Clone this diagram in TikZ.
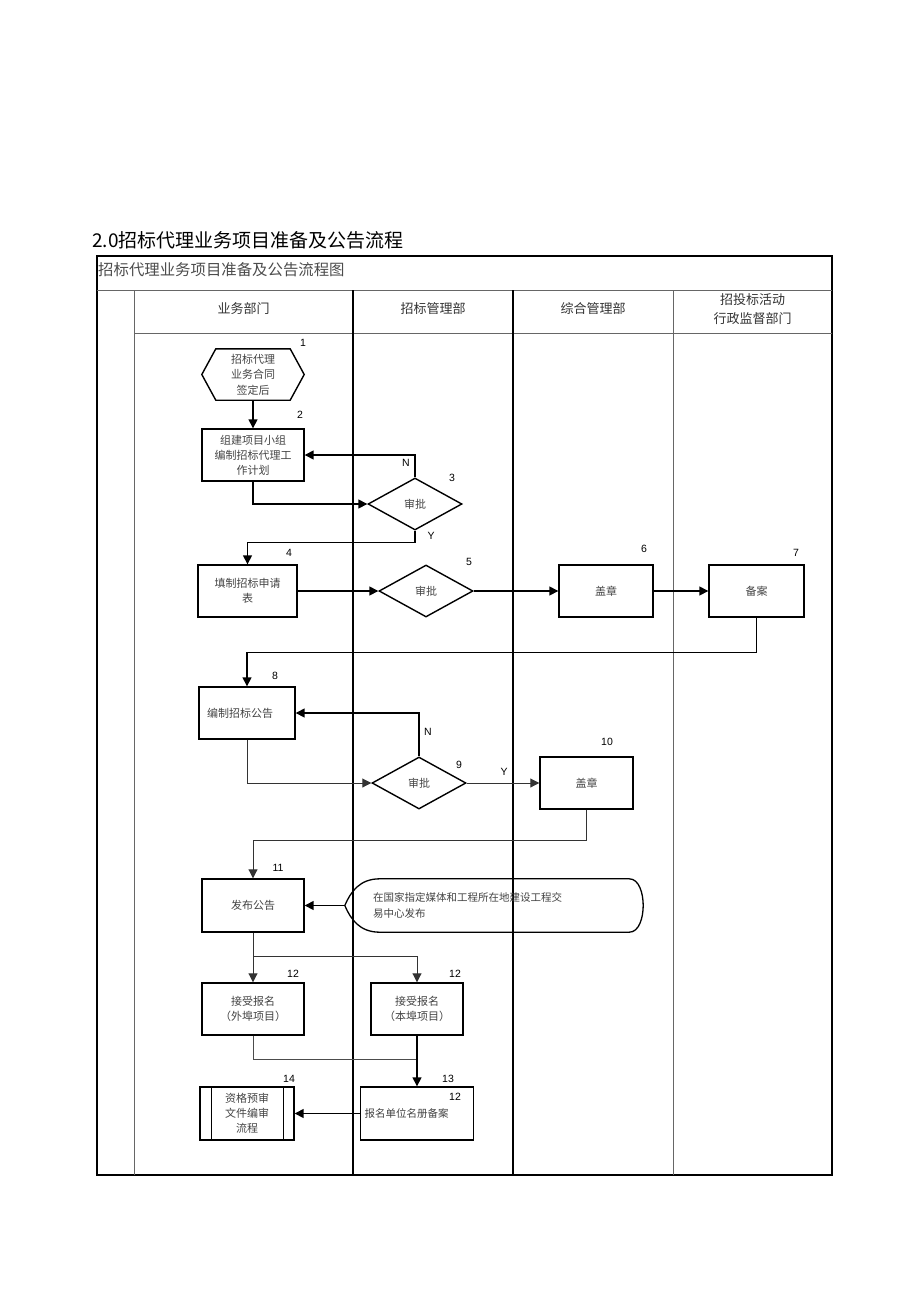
\documentclass[tikz,border=0pt]{standalone}
\usepackage{fontspec}
\setmainfont{Liberation Sans}
\newfontfamily\cjk{Noto Sans CJK SC}
\usetikzlibrary{arrows.meta,shapes.geometric}
\definecolor{txt}{HTML}{444444}
\definecolor{grid}{HTML}{666666}
\begin{document}
\begin{tikzpicture}[x=1pt,y=-1pt,
  boxstyle/.style={draw, line width=1.4pt, inner sep=0pt, text=txt, align=center,
    font=\cjk\fontsize{11}{15}\selectfont},
  plain/.style={inner sep=0pt, text=txt, align=center, font=\cjk\fontsize{11}{15.5}\selectfont},
  dia/.style={boxstyle, shape=diamond, minimum width=94pt, minimum height=52pt, aspect=1.8},
  num/.style={inner sep=0pt, font=\fontsize{10.5}{12}\selectfont},
  flow/.style={line width=1.5pt, -{Triangle[length=9pt,width=9pt]}},
  flowthin/.style={line width=0.9pt, draw=black!80, -{Triangle[length=9pt,width=9pt]}},
  conn/.style={line width=1.5pt},
  connthin/.style={line width=0.9pt, draw=black!70},
  head/.style={inner sep=0pt, text=black!80, align=center, font=\cjk\fontsize{13}{19}\selectfont}]
\useasboundingbox[fill=white] (0,0) rectangle (920,1303);

% ---------- page title ----------
\node[anchor=west, inner sep=0pt, font=\cjk\fontsize{19}{22}\selectfont] (title) at (92,240) {2.0招标代理业务项目准备及公告流程};

% ---------- table ----------
\draw[line width=1.2pt] (97,256) rectangle (832,1175);
\draw[line width=0.9pt, draw=grid] (97,290) -- (832,290);
\draw[line width=0.9pt, draw=grid] (134,333) -- (832,333);
\draw[line width=0.9pt, draw=grid] (134,290) -- (134,1175);
\draw[line width=1.8pt] (353,290) -- (353,1175);
\draw[line width=1.4pt] (513,290) -- (513,1175);
\draw[line width=0.9pt, draw=grid] (673,290) -- (673,1175);
\node[anchor=west, inner sep=0pt, text=black!70, font=\cjk\fontsize{15.4}{18}\selectfont] (ttitle) at (98,270) {招标代理业务项目准备及公告流程图};
\node[head] (h1) at (243.5,309) {业务部门};
\node[head] (h2) at (433,309) {招标管理部};
\node[head] (h3) at (593,309) {综合管理部};
\node[head] (h4) at (752.5,309) {招投标活动\\行政监督部门};

% ---------- nodes ----------
\node[plain, minimum width=102pt, minimum height=51pt] (n1) at (253,374.5) {招标代理\\业务合同\\签定后};
\draw[line width=1.4pt] (n1.west) -- ([xshift=14]n1.north west) -- ([xshift=-14]n1.north east) -- (n1.east) -- ([xshift=-14]n1.south east) -- ([xshift=14]n1.south west) -- cycle;
\node[num] (l1) at (303,343) {1};

\node[boxstyle, minimum width=102pt, minimum height=52pt] (n2) at (253,455) {组建项目小组\\编制招标代理工\\作计划};
\node[num] (l2) at (300,415) {2};

\node[dia] (n3) at (415,504) {审批};
\node[num] (l3) at (452,478) {3};

\node[boxstyle, minimum width=99pt, minimum height=52pt] (n4) at (247.5,591) {填制招标申请\\表};
\node[num] (l4) at (289,553) {4};

\node[dia] (n5) at (426,591) {审批};
\node[num] (l5) at (469,562) {5};

\node[boxstyle, minimum width=94pt, minimum height=52pt] (n6) at (606,591) {盖章};
\node[num] (l6) at (644,549) {6};

\node[boxstyle, minimum width=95pt, minimum height=52pt] (n7) at (756.5,591) {备案};
\node[num] (l7) at (796,553) {7};

\node[boxstyle, minimum width=96pt, minimum height=52pt, text width=80pt, align=left] (n8) at (247,713) {编制招标公告};
\node[num] (l8) at (275,676) {8};

\node[dia] (n9) at (419,783) {审批};
\node[num] (l9) at (459,765) {9};

\node[boxstyle, minimum width=93pt, minimum height=52pt] (n10) at (586.5,783) {盖章};
\node[num] (l10) at (607,742) {10};

\node[boxstyle, minimum width=102pt, minimum height=53pt] (n11) at (253,905.5) {发布公告};
\node[num] (l11) at (278,868) {11};

\node[plain, minimum width=298pt, minimum height=53pt, text width=242pt, align=left, font=\cjk\fontsize{10.5}{16}\selectfont] (pub) at (494,905.5) {在国家指定媒体和工程所在地建设工程交\\易中心发布};
\draw[line width=1.3pt] (pub.west) .. controls ([xshift=6,yshift=14]pub.west) and ([xshift=15]pub.north west) .. ([xshift=35]pub.north west)
  -- ([xshift=-14]pub.north east) .. controls ([xshift=-4]pub.north east) and ([yshift=12]pub.east) .. (pub.east)
  .. controls ([yshift=-12]pub.east) and ([xshift=-4]pub.south east) .. ([xshift=-14]pub.south east)
  -- ([xshift=35]pub.south west) .. controls ([xshift=15]pub.south west) and ([xshift=6,yshift=-14]pub.west) .. (pub.west);

\node[boxstyle, minimum width=102pt, minimum height=52pt] (n12a) at (253,1009) {接受报名\\（外埠项目）};
\node[num] (l12a) at (293,974) {12};
\node[boxstyle, minimum width=92pt, minimum height=52pt] (n12b) at (417,1009) {接受报名\\（本埠项目）};
\node[num] (l12b) at (455,974) {12};

\node[boxstyle, minimum width=113pt, minimum height=53pt, text width=105pt, align=left, font=\cjk\fontsize{10.5}{15}\selectfont] (n13) at (417,1113.5) {报名单位名册备案};
\node[num] (l13) at (448,1079) {13};
\node[num] (l13b) at (455,1097) {12};

\node[boxstyle, minimum width=94pt, minimum height=53pt] (n14) at (247,1113.5) {资格预审\\文件编审\\流程};
\draw[line width=1.1pt] ([xshift=12]n14.north west) -- ([xshift=12]n14.south west);
\draw[line width=1.1pt] ([xshift=-11]n14.north east) -- ([xshift=-11]n14.south east);
\node[num] (l14) at (289,1079) {14};

\coordinate (j12) at (417,1059);

% ---------- connectors ----------
\draw[flow] (n1) -- (n2);
\draw[flow] (n2.south) |- (n3.west);
\draw[flow] (n3.north) |- (n2.east);
\node[num] (lN1) at (406,463) {N};
\draw[flow] (n3.south) -- ++(0,12) -| (n4.north);
\node[num] (lY1) at (431,536) {Y};
\draw[flow] (n4) -- (n5);
\draw[flow] (n5) -- (n6);
\draw[flow] (n6) -- (n7);
\draw[flow] (n7.south) -- ++(0,35) -| (n8.north);
\draw[flowthin] (n8.south) |- (n9.west);
\draw[flow] (n9.north) |- (n8.east);
\node[num] (lN2) at (428,732) {N};
\draw[flowthin] (n9) -- (n10);
\node[num] (lY2) at (504,772) {Y};
\draw[flowthin] (n10.south) -- ++(0,31) -| (n11.north);
\draw[flow] (pub.west) -- (n11.east);
\draw[flowthin] (n11) -- (n12a);
\draw[flowthin] (n11.south) -- ++(0,24) -| (n12b.north);
\draw[connthin] (n12a.south) |- (j12);
\draw[flow] (n12b.south) -- (n13.north);
\draw[flow] (n13.west) -- (n14.east);
\end{tikzpicture}
\end{document}
